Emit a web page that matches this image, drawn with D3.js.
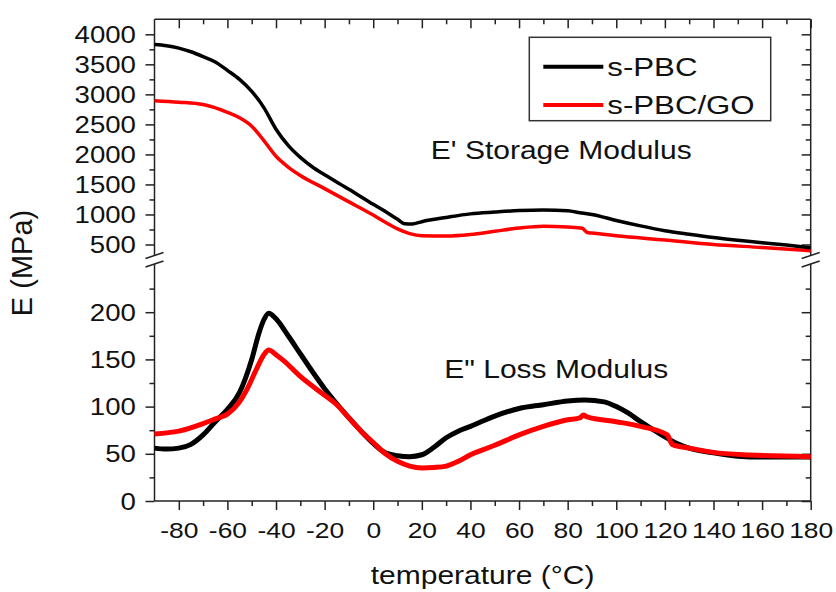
<html>
<head>
<meta charset="utf-8">
<script src="https://d3js.org/d3.v7.min.js"></script>
<style>
  body { margin: 0; background: #fff; }
  text { font-family: Arial, "Liberation Sans", sans-serif; fill: #111; }
</style>
</head>
<body>
<svg id="svg" width="836" height="592"></svg>
<script>
// DATA
// storage modulus E' (MPa)
const pbcStorageT = [-90, -85, -80, -75, -70, -65, -60, -55, -50, -45, -40, -35, -30, -25, -20, -10, 0, 5, 10, 13, 16, 20, 30, 40, 50, 60, 70, 80, 85, 90, 100, 110, 120, 130, 140, 150, 160, 170, 180]
const pbcStorageE = [3830, 3810, 3770, 3710, 3630, 3540, 3400, 3250, 3050, 2780, 2420, 2150, 1950, 1790, 1660, 1420, 1170, 1050, 920, 845, 840, 880, 950, 1010, 1040, 1065, 1075, 1060, 1030, 1000, 900, 810, 730, 670, 615, 570, 530, 490, 445]
const goStorageT = [-90, -80, -70, -60, -55, -50, -45, -40, -35, -30, -20, -10, 0, 5, 10, 15, 20, 30, 40, 50, 60, 70, 80, 86, 88, 90, 100, 120, 140, 160, 180]
const goStorageE = [2895, 2870, 2830, 2700, 2610, 2470, 2230, 1970, 1790, 1650, 1430, 1210, 990, 870, 760, 680, 645, 640, 665, 720, 775, 805, 790, 770, 700, 690, 645, 575, 500, 450, 395]
// loss modulus E" (MPa)
const pbcLossT = [-90, -85, -80, -75, -70, -65, -60, -55, -50, -47, -45, -43, -40, -35, -30, -25, -20, -15, -10, -5, 0, 5, 10, 15, 20, 25, 30, 35, 40, 50, 60, 70, 80, 87, 95, 100, 105, 110, 115, 120, 125, 130, 140, 150, 160, 180]
const pbcLossE = [56, 55, 56, 60, 70, 84, 97, 115, 150, 178, 192, 199, 193, 175, 156, 137, 119, 103, 88, 74, 61, 51, 48, 47, 49, 57, 67, 74, 79, 90, 98, 102, 106, 107, 105, 100, 93, 84, 76, 68, 61, 56, 51, 47.5, 46.5, 46.5]
const goLossT = [-90, -80, -70, -65, -60, -55, -52, -48, -45, -43, -40, -37, -30, -20, -15, -10, -5, 0, 5, 10, 15, 20, 25, 30, 35, 40, 50, 60, 70, 80, 85, 86.5, 88, 100, 110, 121, 123, 130, 140, 155, 180]
const goLossE = [71, 74, 82, 87, 92, 105, 118, 140, 155, 160, 155, 149, 132, 112, 102, 88, 74, 62, 50, 42, 37, 35, 35.5, 37, 42, 49, 59, 70, 79, 86, 88, 91, 89, 84, 79, 70, 60, 56, 51.5, 48.7, 47]

const seriesNames = ["s-PBC", "s-PBC/GO"]
const seriesColors = ["#000000", "#ff0000"]
const xTicks = d3.range(-80, 181, 20)
const yTopTicks = d3.range(500, 4001, 500)
const yBotTicks = d3.range(0, 201, 50)

// LAYOUT
const sx = 1.2 // the source figure is stretched sideways, text follows
const pLeft = 154.5, pRight = 810.7, pTop = 19.3, pBottom = 501
const breakTop = 255.5, breakBot = 264

const x = d3.scaleLinear().domain([-90, 180]).range([pLeft, pRight])
const yTop = d3.scaleLinear().domain([375, 4250]).range([252, pTop])
const yBot = d3.scaleLinear().domain([0, 250]).range([pBottom, 265])

const svg = d3.select("#svg")

const zip = (a, b) => a.map((t, i) => [t, b[i]])
const plain = d => String(d) // hyphen minus, as in the source

// AXES
function styleAxis(g) {
    g.select(".domain").remove()
    g.selectAll(".tick line").attr("stroke", "#222").attr("stroke-width", 1.5)
}

function leftAxis(scale, majors, minors) {
    svg.append("g").attr("transform", `translate(${pLeft},0)`)
        .call(d3.axisLeft(scale).tickValues(majors).tickSize(9).tickFormat(plain))
        .call(styleAxis)
        .call(g => g.selectAll("text")
            .attr("x", -15.5).attr("dy", "0.35em")
            .attr("transform", `scale(${sx},1)`)
            .style("font-size", "23px").style("font-family", "Arial, 'Liberation Sans', sans-serif").attr("fill", "#111"))
    svg.append("g").attr("transform", `translate(${pLeft},0)`)
        .call(d3.axisLeft(scale).tickValues(minors).tickSize(5).tickFormat(""))
        .call(styleAxis)
    svg.append("g").attr("transform", `translate(${pRight},0)`)
        .call(d3.axisRight(scale).tickValues(majors).tickSize(-9).tickFormat(""))
        .call(styleAxis)
    svg.append("g").attr("transform", `translate(${pRight},0)`)
        .call(d3.axisRight(scale).tickValues(minors).tickSize(-5).tickFormat(""))
        .call(styleAxis)
}

leftAxis(yTop, yTopTicks, d3.range(750, 4000, 500))
leftAxis(yBot, yBotTicks, d3.range(25, 250, 50))

svg.append("g").attr("transform", `translate(0,${pBottom})`)
    .call(d3.axisBottom(x).tickValues(xTicks).tickSize(9).tickFormat(plain))
    .call(styleAxis)
    .call(g => g.selectAll("text")
        .attr("y", 21).attr("dy", "0.71em")
        .attr("transform", `scale(${sx},1)`)
        .style("font-size", "22px").style("font-family", "Arial, 'Liberation Sans', sans-serif").attr("fill", "#111"))
svg.append("g").attr("transform", `translate(0,${pBottom})`)
    .call(d3.axisBottom(x).tickValues(d3.range(-70, 180, 20)).tickSize(5).tickFormat(""))
    .call(styleAxis)
svg.append("g").attr("transform", `translate(0,${pTop})`)
    .call(d3.axisTop(x).tickValues(xTicks).tickSize(-9).tickFormat(""))
    .call(styleAxis)
svg.append("g").attr("transform", `translate(0,${pTop})`)
    .call(d3.axisTop(x).tickValues(d3.range(-70, 180, 20)).tickSize(-5).tickFormat(""))
    .call(styleAxis)

// frame, split at the axis break
const frame = svg.append("g").attr("stroke", "#222").attr("stroke-width", 1.5).attr("fill", "none")
frame.append("line").attr("x1", pLeft).attr("x2", pRight).attr("y1", pTop).attr("y2", pTop)
frame.append("line").attr("x1", pLeft).attr("x2", pRight).attr("y1", pBottom).attr("y2", pBottom)
;[pLeft, pRight].forEach(xx => {
    frame.append("line").attr("x1", xx).attr("x2", xx).attr("y1", pTop).attr("y2", breakTop)
    frame.append("line").attr("x1", xx).attr("x2", xx).attr("y1", breakBot).attr("y2", pBottom)
    ;[breakTop, breakBot].forEach(yy => {
        frame.append("line").attr("x1", xx - 9).attr("y1", yy + 3).attr("x2", xx + 9).attr("y2", yy - 3)
    })
})

// CURVES
const lineTop = d3.line().x(d => x(d[0])).y(d => yTop(d[1])).curve(d3.curveMonotoneX)
const lineBot = d3.line().x(d => x(d[0])).y(d => yBot(d[1])).curve(d3.curveMonotoneX)

const curves = [
    { d: zip(goStorageT, goStorageE), line: lineTop, c: seriesColors[1], w: 3.5 },
    { d: zip(pbcStorageT, pbcStorageE), line: lineTop, c: seriesColors[0], w: 3.5 },
    { d: zip(pbcLossT, pbcLossE), line: lineBot, c: seriesColors[0], w: 5 },
    { d: zip(goLossT, goLossE), line: lineBot, c: seriesColors[1], w: 5 },
]
svg.append("g").selectAll("path")
    .data(curves)
    .enter().append("path")
    .attr("fill", "none")
    .attr("stroke", d => d.c)
    .attr("stroke-width", d => d.w)
    .attr("stroke-linejoin", "round")
    .attr("d", d => d.line(d.d))

// TEXT helper: stretched like the source image
function label(str, px, py, size, anchor, stretch) {
    const g = svg.append("g").attr("transform", `translate(${px},${py}) ` + (stretch || `scale(${sx},1)`))
    g.append("text").attr("text-anchor", anchor).style("font-size", size + "px").text(str)
}

// LEGEND
svg.append("rect").attr("x", 529.3).attr("y", 37.3).attr("width", 241.4).attr("height", 83.4)
    .attr("fill", "#fff").attr("stroke", "#333").attr("stroke-width", 1.5)
const legY = [66.7, 105]
seriesNames.forEach((n, i) => {
    svg.append("line").attr("x1", 543.3).attr("x2", 603.3).attr("y1", legY[i]).attr("y2", legY[i])
        .attr("stroke", seriesColors[i]).attr("stroke-width", 4)
    label(n, 607.3, legY[i] + 8.8, 26, "start")
})

label("E' Storage Modulus", 691.7, 159, 25, "end")
label("E\" Loss Modulus", 668.3, 378.3, 25, "end")
label("temperature (\u00b0C)", (pLeft + pRight) / 2, 584, 25, "middle")
label("E (MPa)", 32, 263, 29, "middle", "rotate(-90)")
</script>
</body>
</html>
